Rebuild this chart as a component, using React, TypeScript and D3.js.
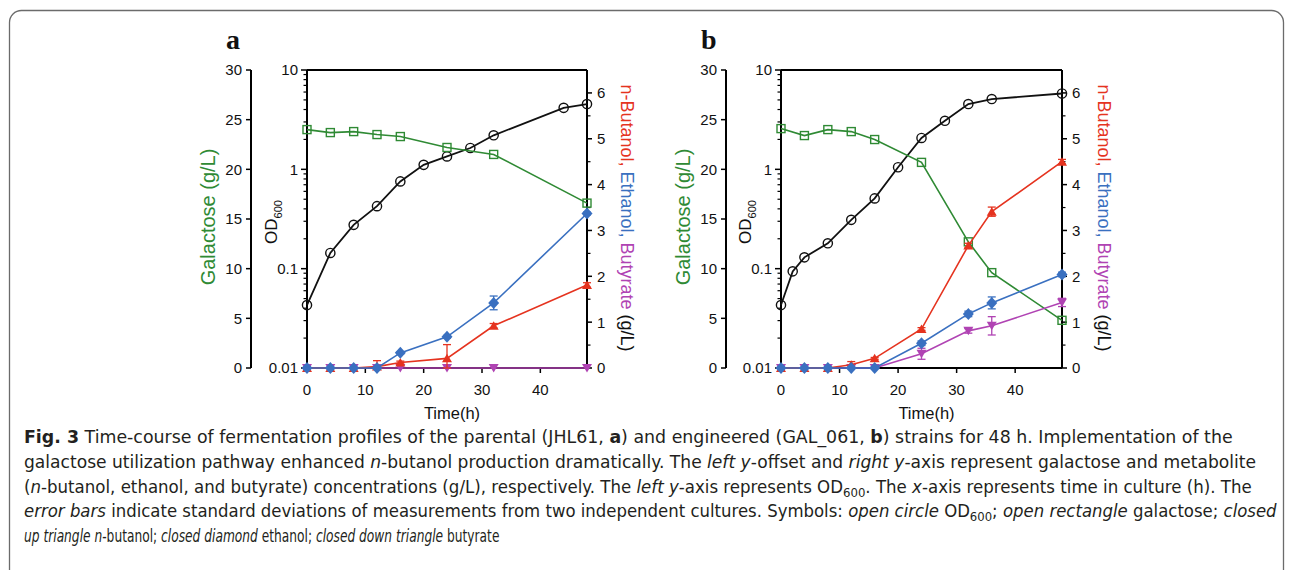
import React, { useLayoutEffect, useRef, useState } from "react";
import * as d3 from "d3";

// ---------- Data ----------
// Panel a: parental JHL61
const timeA_OD = [0, 4, 8, 12, 16, 20, 24, 28, 32, 44, 48];
const odA = [0.043, 0.144, 0.276, 0.426, 0.756, 1.11, 1.35, 1.64, 2.2, 4.16, 4.54];
const timeA_gal = [0, 4, 8, 12, 16, 24, 32, 48];
const galA = [24.0, 23.7, 23.8, 23.5, 23.3, 22.2, 21.5, 16.6];
const timeA_met = [0, 4, 8, 12, 16, 24, 32, 48];
const butanolA = [0, 0, 0, 0.03, 0.12, 0.21, 0.92, 1.81];
const butanolAErr = [0, 0, 0, 0.13, 0.03, 0.3, 0.05, 0.05];
const ethanolA = [0, 0, 0, 0, 0.33, 0.68, 1.42, 3.37];
const ethanolAErr = [0, 0, 0, 0, 0.02, 0.03, 0.15, 0.03];
const butyrateA = [0, 0, 0, 0, 0, 0, 0, 0];
const butyrateAErr = [0, 0, 0, 0, 0, 0, 0, 0];

// Panel b: engineered GAL_061
const timeB_OD = [0, 2, 4, 8, 12, 16, 20, 24, 28, 32, 36, 48];
const odB = [0.043, 0.094, 0.13, 0.18, 0.31, 0.51, 1.05, 2.07, 3.08, 4.54, 5.1, 5.8];
const timeB_gal = [0, 4, 8, 12, 16, 24, 32, 36, 48];
const galB = [24.1, 23.4, 24.0, 23.8, 23.0, 20.7, 12.7, 9.6, 4.8];
const timeB_met = [0, 4, 8, 12, 16, 24, 32, 36, 48];
const butanolB = [0, 0, 0, 0.07, 0.21, 0.85, 2.67, 3.41, 4.5];
const butanolBErr = [0, 0, 0, 0.07, 0.02, 0.03, 0.05, 0.1, 0.05];
const ethanolB = [0, 0, 0, 0, 0, 0.54, 1.18, 1.42, 2.04];
const ethanolBErr = [0, 0, 0, 0, 0, 0.05, 0.06, 0.13, 0.05];
const butyrateB = [0, 0, 0, 0, 0, 0.31, 0.81, 0.92, 1.43];
const butyrateBErr = [0, 0, 0, 0, 0, 0.12, 0.05, 0.2, 0.09];

// Axis ticks
const xTicks = [0, 10, 20, 30, 40];
const galTicks = [0, 5, 10, 15, 20, 25, 30];
const odMajor = [0.01, 0.1, 1, 10];
const odTickLabels = ["0.01", "0.1", "1", "10"];
const rightTicks = [0, 1, 2, 3, 4, 5, 6];

// Caption line target widths (px)
const captionWidths = [1209, 1233, 1229, 1254, 476];

// ---------- Styles ----------
const GREEN = "#2f8a34";
const RED = "#e5331f";
const BLUE = "#3a70c0";
const MAGENTA = "#b043b3";
const FONT = "'Liberation Sans', Arial, sans-serif";

type PanelProps = {
  label: string;
  galAxisX: number;
  left: number;
  right: number;
  rightTitleX: number;
  tOD: number[];
  od: number[];
  tGal: number[];
  gal: number[];
  tMet: number[];
  butanol: number[];
  butanolErr: number[];
  ethanol: number[];
  ethanolErr: number[];
  butyrate: number[];
  butyrateErr: number[];
};

const TOP = 70;
const BOTTOM = 368;

function Panel(p: PanelProps) {
  const x = d3.scaleLinear().domain([0, 48]).range([p.left, p.right]);
  const yGal = d3.scaleLinear().domain([0, 30]).range([BOTTOM, TOP]);
  const yOD = d3.scaleLog().domain([0.01, 10]).range([BOTTOM, TOP]);
  const yR = d3.scaleLinear().domain([0, 6.5]).range([BOTTOM, TOP]);

  const lineOf = (ts: number[], vs: number[], y: (v: number) => number) =>
    d3.line<number>().x((_, i) => x(ts[i])).y((v) => y(v))(vs) || "";

  const odMinor: number[] = [];
  [0.01, 0.1, 1].forEach((d) => {
    for (let k = 2; k <= 9; k++) odMinor.push(d * k);
  });
  const rightMinor = d3.range(0.5, 6.5, 1);

  const errBars = (vals: number[], errs: number[], color: string) =>
    vals.map((v, i) => {
      const e = errs[i];
      if (!e) return null;
      const cx = x(p.tMet[i]);
      const y1 = yR(v + e);
      const y0 = yR(Math.max(0, v - e));
      return (
        <g key={i} stroke={color} strokeWidth={1.3}>
          <line x1={cx} x2={cx} y1={y0} y2={y1} />
          <line x1={cx - 4} x2={cx + 4} y1={y1} y2={y1} />
          <line x1={cx - 4} x2={cx + 4} y1={y0} y2={y0} />
        </g>
      );
    });

  return (
    <g>
      {/* panel letter */}
      <text
        x={p.galAxisX - 25}
        y={49}
        fontFamily="'Liberation Serif', 'Times New Roman', serif"
        fontWeight="bold"
        fontSize={28}
        fill="#111"
      >
        {p.label}
      </text>

      {/* galactose offset axis */}
      <line x1={p.galAxisX} x2={p.galAxisX} y1={TOP} y2={BOTTOM} stroke="#000" strokeWidth={2} />
      {galTicks.map((t) => (
        <g key={"g" + t}>
          <line x1={p.galAxisX - 5} x2={p.galAxisX} y1={yGal(t)} y2={yGal(t)} stroke="#000" strokeWidth={1.5} />
          <text x={p.galAxisX - 9} y={yGal(t)} dy="0.36em" textAnchor="end" fontFamily={FONT} fontSize={15} fill="#111">
            {t}
          </text>
        </g>
      ))}
      <text
        transform={`translate(${p.galAxisX - 36},${217}) rotate(-90)`}
        textAnchor="middle"
        fontFamily={FONT}
        fontSize={20}
        fill={GREEN}
      >
        Galactose (g/L)
      </text>

      {/* OD axis (left of box) */}
      <line x1={p.left} x2={p.left} y1={TOP} y2={BOTTOM} stroke="#000" strokeWidth={2} />
      {odMajor.map((t, i) => (
        <g key={"o" + t}>
          <line x1={p.left - 6} x2={p.left} y1={yOD(t)} y2={yOD(t)} stroke="#000" strokeWidth={1.5} />
          <text x={p.left - 9} y={yOD(t)} dy="0.36em" textAnchor="end" fontFamily={FONT} fontSize={15} fill="#111">
            {odTickLabels[i]}
          </text>
        </g>
      ))}
      {odMinor.map((t) => (
        <line key={"om" + t} x1={p.left - 3.5} x2={p.left} y1={yOD(t)} y2={yOD(t)} stroke="#000" strokeWidth={1.2} />
      ))}
      <text
        transform={`translate(${p.left - 30},${222}) rotate(-90)`}
        textAnchor="middle"
        fontFamily={FONT}
        fontSize={17}
        fill="#111"
      >
        OD
        <tspan fontSize={11} dy={5}>600</tspan>
      </text>

      {/* top border */}
      <line x1={p.left} x2={p.right} y1={TOP} y2={TOP} stroke="#000" strokeWidth={2} />

      {/* right axis */}
      <line x1={p.right} x2={p.right} y1={TOP} y2={BOTTOM} stroke="#000" strokeWidth={2} />
      {rightTicks.map((t) => (
        <g key={"r" + t}>
          <line x1={p.right} x2={p.right + 5} y1={yR(t)} y2={yR(t)} stroke="#000" strokeWidth={1.5} />
          <text x={p.right + 10} y={yR(t)} dy="0.36em" textAnchor="start" fontFamily={FONT} fontSize={15} fill="#111">
            {t}
          </text>
        </g>
      ))}
      {rightMinor.map((t) => (
        <line key={"rm" + t} x1={p.right} x2={p.right + 3.5} y1={yR(t)} y2={yR(t)} stroke="#000" strokeWidth={1.2} />
      ))}
      <text
        transform={`translate(${p.rightTitleX},${218}) rotate(90)`}
        textAnchor="middle"
        fontFamily={FONT}
        fontSize={18}
      >
        <tspan fill={RED}>n-Butanol, </tspan>
        <tspan fill={BLUE}>Ethanol, </tspan>
        <tspan fill={MAGENTA}>Butyrate </tspan>
        <tspan fill="#111">(g/L)</tspan>
      </text>

      {/* x axis */}
      <line x1={p.left} x2={p.right} y1={BOTTOM} y2={BOTTOM} stroke="#000" strokeWidth={2} />
      {xTicks.map((t) => (
        <g key={"x" + t}>
          <line x1={x(t)} x2={x(t)} y1={BOTTOM} y2={BOTTOM + 5} stroke="#000" strokeWidth={1.5} />
          <text x={x(t)} y={BOTTOM + 27} textAnchor="middle" fontFamily={FONT} fontSize={15} fill="#111">
            {t}
          </text>
        </g>
      ))}
      <text x={(p.left + p.right) / 2 + 5} y={419} textAnchor="middle" fontFamily={FONT} fontSize={16.5} fill="#111">
        Time(h)
      </text>

      {/* OD series */}
      <path d={lineOf(p.tOD, p.od, yOD)} fill="none" stroke="#111" strokeWidth={1.8} />
      {p.od.map((v, i) => (
        <circle key={"c" + i} cx={x(p.tOD[i])} cy={yOD(v)} r={4.6} fill="none" stroke="#111" strokeWidth={1.4} />
      ))}

      {/* Galactose series */}
      <path d={lineOf(p.tGal, p.gal, yGal)} fill="none" stroke={GREEN} strokeWidth={1.6} />
      {p.gal.map((v, i) => (
        <rect
          key={"s" + i}
          x={x(p.tGal[i]) - 4}
          y={yGal(v) - 4}
          width={8}
          height={8}
          fill="none"
          stroke={GREEN}
          strokeWidth={1.4}
        />
      ))}

      {/* Butyrate */}
      {errBars(p.butyrate, p.butyrateErr, MAGENTA)}
      <path d={lineOf(p.tMet, p.butyrate, yR)} fill="none" stroke={MAGENTA} strokeWidth={1.6} />
      {p.butyrate.map((v, i) => {
        const cx = x(p.tMet[i]);
        const cy = yR(v);
        return (
          <path key={"bt" + i} d={`M${cx - 5},${cy - 4}L${cx + 5},${cy - 4}L${cx},${cy + 4.5}Z`} fill={MAGENTA} />
        );
      })}

      {/* Butanol */}
      {errBars(p.butanol, p.butanolErr, RED)}
      <path d={lineOf(p.tMet, p.butanol, yR)} fill="none" stroke={RED} strokeWidth={1.6} />
      {p.butanol.map((v, i) => {
        const cx = x(p.tMet[i]);
        const cy = yR(v);
        return (
          <path key={"bu" + i} d={`M${cx - 5},${cy + 4}L${cx + 5},${cy + 4}L${cx},${cy - 4.5}Z`} fill={RED} />
        );
      })}

      {/* Ethanol */}
      {errBars(p.ethanol, p.ethanolErr, BLUE)}
      <path d={lineOf(p.tMet, p.ethanol, yR)} fill="none" stroke={BLUE} strokeWidth={1.6} />
      {p.ethanol.map((v, i) => {
        const cx = x(p.tMet[i]);
        const cy = yR(v);
        return (
          <path key={"et" + i} d={`M${cx},${cy - 6}L${cx + 5.5},${cy}L${cx},${cy + 6}L${cx - 5.5},${cy}Z`} fill={BLUE} />
        );
      })}
    </g>
  );
}

const CAP_FONT = "'DejaVu Sans', sans-serif";
const captionY = [443, 468, 493, 517, 542];

export default function App() {
  const refs = useRef<(SVGTextElement | null)[]>([]);
  const [scales, setScales] = useState<number[]>([1, 1, 1, 1, 1]);

  useLayoutEffect(() => {
    const s = refs.current.map((el, i) => {
      if (!el) return 1;
      const w = el.getComputedTextLength();
      return w > 0 ? captionWidths[i] / w : 1;
    });
    setScales(s);
  }, []);

  const lines: React.ReactNode[] = [
    <>
      <tspan fontWeight="bold">Fig. 3</tspan>
      <tspan>{"  Time-course of fermentation profiles of the parental (JHL61, "}</tspan>
      <tspan fontWeight="bold">a</tspan>
      <tspan>{") and engineered (GAL_061, "}</tspan>
      <tspan fontWeight="bold">b</tspan>
      <tspan>{") strains for 48 h. Implementation of the"}</tspan>
    </>,
    <>
      <tspan>{"galactose utilization pathway enhanced "}</tspan>
      <tspan fontStyle="italic">n</tspan>
      <tspan>{"-butanol production dramatically. The "}</tspan>
      <tspan fontStyle="italic">left y</tspan>
      <tspan>{"-offset and "}</tspan>
      <tspan fontStyle="italic">right y</tspan>
      <tspan>{"-axis represent galactose and metabolite"}</tspan>
    </>,
    <>
      <tspan>{"("}</tspan>
      <tspan fontStyle="italic">n</tspan>
      <tspan>{"-butanol, ethanol, and butyrate) concentrations (g/L), respectively. The "}</tspan>
      <tspan fontStyle="italic">left y</tspan>
      <tspan>{"-axis represents OD"}</tspan>
      <tspan fontSize={12} dy={4}>600</tspan>
      <tspan dy={-4}>{". The "}</tspan>
      <tspan fontStyle="italic">x</tspan>
      <tspan>{"-axis represents time in culture (h). The"}</tspan>
    </>,
    <>
      <tspan fontStyle="italic">error bars</tspan>
      <tspan>{" indicate standard deviations of measurements from two independent cultures. Symbols: "}</tspan>
      <tspan fontStyle="italic">open circle</tspan>
      <tspan>{" OD"}</tspan>
      <tspan fontSize={12} dy={4}>600</tspan>
      <tspan dy={-4}>{"; "}</tspan>
      <tspan fontStyle="italic">open rectangle</tspan>
      <tspan>{" galactose; "}</tspan>
      <tspan fontStyle="italic">closed</tspan>
    </>,
    <>
      <tspan fontStyle="italic">up triangle n</tspan>
      <tspan>{"-butanol; "}</tspan>
      <tspan fontStyle="italic">closed diamond</tspan>
      <tspan>{" ethanol; "}</tspan>
      <tspan fontStyle="italic">closed down triangle</tspan>
      <tspan>{" butyrate"}</tspan>
    </>,
  ];

  return (
    <svg
      width={1293}
      height={570}
      style={{ position: "absolute", left: 0, top: 0, background: "#fff" }}
    >
      <rect x={9.5} y={10.5} width={1274} height={620} rx={12} ry={12} fill="none" stroke="#6b6b6b" strokeWidth={1.3} />

      <Panel
        label="a"
        galAxisX={251}
        left={307}
        right={587}
        rightTitleX={621}
        tOD={timeA_OD}
        od={odA}
        tGal={timeA_gal}
        gal={galA}
        tMet={timeA_met}
        butanol={butanolA}
        butanolErr={butanolAErr}
        ethanol={ethanolA}
        ethanolErr={ethanolAErr}
        butyrate={butyrateA}
        butyrateErr={butyrateAErr}
      />
      <Panel
        label="b"
        galAxisX={726}
        left={781}
        right={1062}
        rightTitleX={1098}
        tOD={timeB_OD}
        od={odB}
        tGal={timeB_gal}
        gal={galB}
        tMet={timeB_met}
        butanol={butanolB}
        butanolErr={butanolBErr}
        ethanol={ethanolB}
        ethanolErr={ethanolBErr}
        butyrate={butyrateB}
        butyrateErr={butyrateBErr}
      />

      <g fontFamily={CAP_FONT} fontSize={17} fill="#231f20">
        {lines.map((content, i) => (
          <text
            key={i}
            ref={(el) => {
              refs.current[i] = el;
            }}
            transform={`translate(24,${captionY[i]}) scale(${scales[i]},1)`}
          >
            {content}
          </text>
        ))}
      </g>
    </svg>
  );
}
